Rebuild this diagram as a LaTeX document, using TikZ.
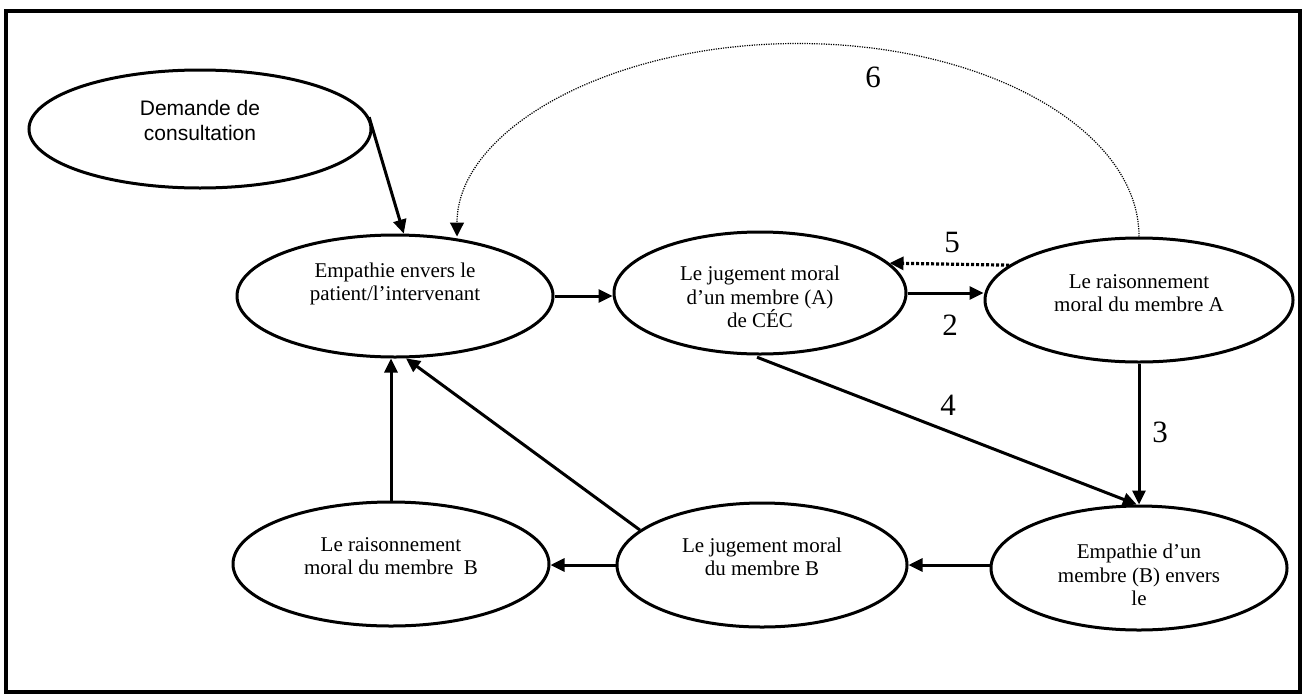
\documentclass[tikz,border=0pt]{standalone}
\usepackage{fontspec}
\setmainfont{Liberation Serif}
\newfontfamily\arialfont{Liberation Sans}
\usetikzlibrary{shapes.geometric,arrows.meta,calc}
\begin{document}
\begin{tikzpicture}[x=0.5pt,y=-0.5pt,
  ell/.style={ellipse, draw, line width=1.5pt, inner sep=0pt},
  txt/.style={align=center, font=\fontsize{10.5}{11.8}\selectfont, inner sep=0pt},
  sanstxt/.style={align=center, font=\arialfont\fontsize{10.5}{12.5}\selectfont, inner sep=0pt},
  num/.style={font=\fontsize{15.5}{18}\selectfont, inner sep=0pt},
  tip/.style={-{Triangle[length=7pt,width=6.5pt]}},
  arr/.style={tip, line width=1.5pt},
  thickdots/.style={tip, line width=1.6pt, dash pattern=on 1.5pt off 1pt},
  thindots/.style={-{Triangle[length=7pt,width=7pt]}, line width=0.6pt, dash pattern=on 0.6pt off 0.6pt}]
\useasboundingbox (0,0) rectangle (1304,696);
\draw[line width=1.8pt] (6,11) rectangle (1300,692);

% ellipses
\node[ell, minimum width=171pt, minimum height=59pt] (DC) at (200,129) {};
\node[ell, minimum width=158pt, minimum height=61pt] (EP) at (395,296) {};
\node[ell, minimum width=146pt, minimum height=61pt] (JA) at (760,293) {};
\node[ell, minimum width=154pt, minimum height=62pt] (RA) at (1139,300) {};
\node[ell, minimum width=148pt, minimum height=62pt] (EB) at (1139,568) {};
\node[ell, minimum width=145pt, minimum height=62pt] (JB) at (762,565) {};
\node[ell, minimum width=158pt, minimum height=62pt] (RB) at (391,564) {};

% texts
\node[sanstxt] (DCt) at (200,120) {Demande de\\consultation};
\node[txt] (EPt) at (395,284) {Empathie envers le\\patient/l’intervenant};
\node[txt] (JAt) at (760,297) {Le jugement moral\\d’un membre (A)\\de CÉC};
\node[txt] (RAt) at (1139,293) {Le raisonnement\\moral du membre A};
\node[txt] (EBt) at (1139,575) {Empathie d’un\\membre (B) envers\\le};
\node[txt] (JBt) at (762,557) {Le jugement moral\\du membre B};
\node[txt] (RBt) at (391,556) {Le raisonnement\\moral du membre~ B};

% numbers
\node[num] (n2) at (950,325) {2};
\node[num] (n3) at (1160,432) {3};
\node[num] (n4) at (948,405) {4};
\node[num] (n5) at (952,242) {5};
\node[num] (n6) at (873,77) {6};

% connectors
\draw[arr] (DC.4) -- (EP.82);
\draw[arr] (EP.east) -- (EP.east -| JA.west);
\draw[arr] (JA.east) -- (JA.east -| RA.west);
\draw[thickdots] (RA.165) -- (JA.13);
\draw[arr] (RA.south) -- (EB.north);
\draw[arr, shorten <=2.5pt] (JA.263) -- (EB.92);
\draw[arr] (JB.east -| EB.west) -- (JB.east);
\draw[arr] (JB.west) -- (JB.west -| RB.east);
\draw[arr] (RB.north) -- (RB.north |- EP.south);
\draw[arr] (JB.164) -- (EP.-80);
\draw[thindots] (RA.north) arc[start angle=0, end angle=180, x radius=170.5pt, y radius=96.5pt];
\end{tikzpicture}
\end{document}
